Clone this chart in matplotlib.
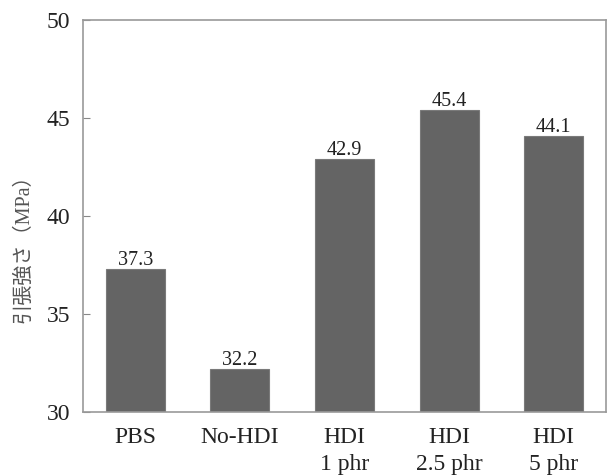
import matplotlib
matplotlib.use("Agg")
import matplotlib.pyplot as plt

categories = ["PBS", "No-HDI", "HDI\n1 phr", "HDI\n2.5 phr", "HDI\n5 phr"]
values = [37.3, 32.2, 42.9, 45.4, 44.1]
yticks = [30, 35, 40, 45, 50]

plt.rcParams['font.family'] = ['Liberation Serif', 'Noto Sans CJK JP']

fig = plt.figure(figsize=(6.11, 4.75), dpi=100)
ax = fig.add_axes([83/611, 1 - 412/475, 523/611, 392/475])

x = list(range(len(categories)))
ax.bar(x, values, width=0.565, color="#646464", edgecolor="#7a7a7a", linewidth=0.8, zorder=2)
for xi, v in zip(x, values):
    ax.text(xi, v + 0.2, f"{v:.1f}", ha="center", va="baseline", fontsize=14.5, color="#222222")

ax.set_xlim(-0.5, len(categories) - 0.5)
ax.set_ylim(30, 50)
ax.set_yticks(yticks)
ax.set_yticklabels([str(t) for t in yticks], fontsize=17, color="#222222")
ax.set_xticks(x)
ax.set_xticklabels(categories, fontsize=17, color="#222222", linespacing=1.38, va="top")
ax.tick_params(axis="y", direction="in", length=5, width=0.8, color="#888888", pad=9)
ax.tick_params(axis="x", length=0, pad=11)
for s in ax.spines.values():
    s.set_color("#999999")
    s.set_linewidth(1.2)

ax.set_ylabel("引張強さ（MPa）", fontsize=14.5, color="#555555",
              family=['Liberation Serif', 'Noto Sans CJK JP'])
ax.yaxis.set_label_coords(-0.0956, 0.43)

fig.savefig("out.png", dpi=100)
